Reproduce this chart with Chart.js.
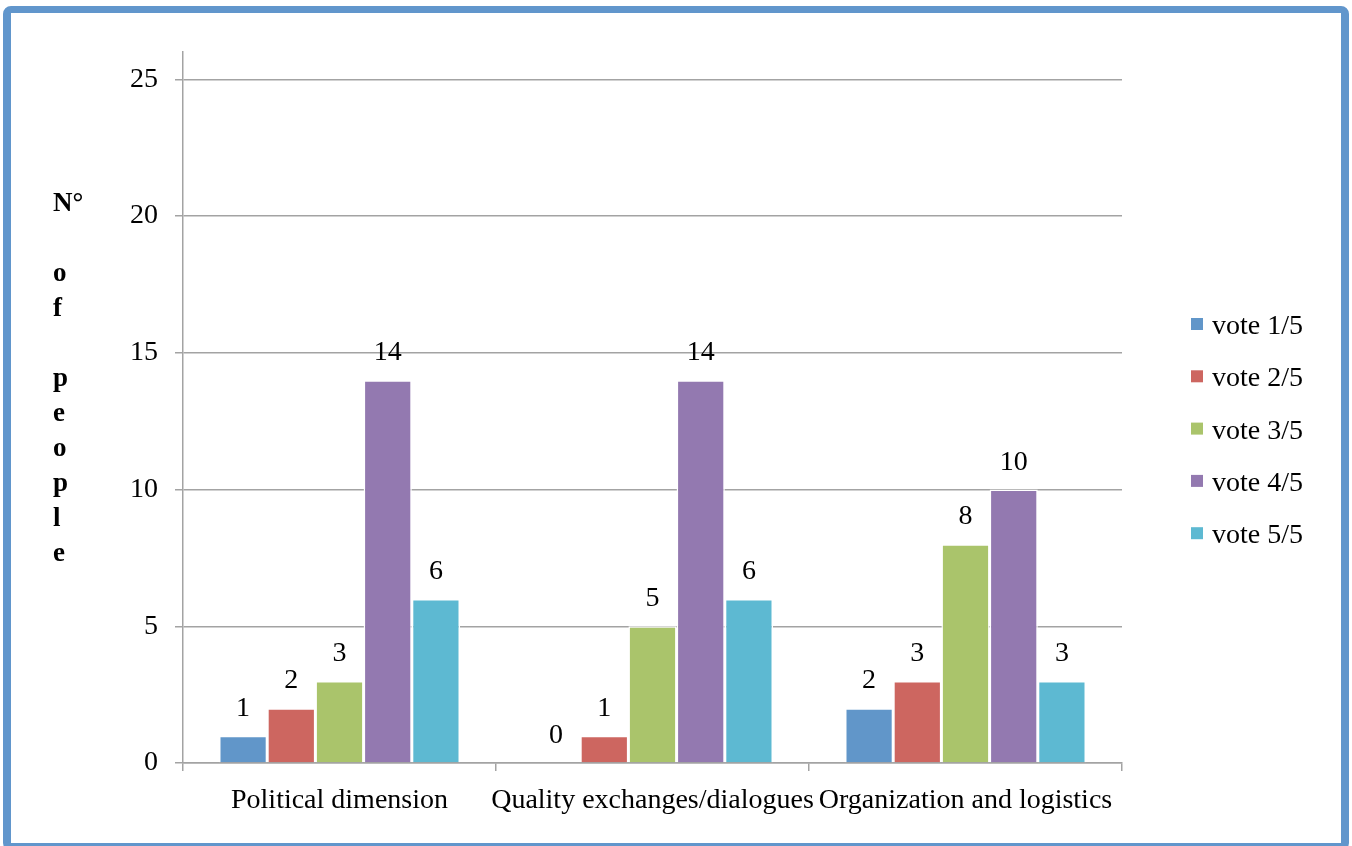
<!DOCTYPE html>
<html>
<head>
<meta charset="utf-8">
<title>Votes</title>
<script src="https://cdn.jsdelivr.net/npm/chart.js@4.4.1/dist/chart.umd.min.js"></script>
<style>
  body { margin: 0; background: #fff; }
  #wrap { position: relative; width: 1352px; height: 846px; overflow: hidden; }
  #frame {
    position: absolute; left: 3px; top: 6px; width: 1330px; height: 830px;
    border: 8px solid #6196cc; border-top-width: 7px; border-radius: 8px;
    pointer-events: none;
  }
  canvas { position: absolute; left: 0; top: 0; }
</style>
</head>
<body>
<div id="wrap">
  <canvas id="voteChart" width="1352" height="846"></canvas>
  <div id="frame"></div>
</div>
<script>
// Values
const categories = ['Political dimension', 'Quality exchanges/dialogues', 'Organization and logistics'];
const seriesNames = ['vote 1/5', 'vote 2/5', 'vote 3/5', 'vote 4/5', 'vote 5/5'];
const vote1 = [1, 0, 2];
const vote2 = [2, 1, 3];
const vote3 = [3, 5, 8];
const vote4 = [14, 14, 10];
const vote5 = [6, 6, 3];
const seriesColors = ['#6196c9', '#cd6660', '#aac46b', '#9379b0', '#5db9d2'];
const yTicks = [0, 5, 10, 15, 20, 25];
const yTitleLines = ['N°', '', 'o', 'f', '', 'p', 'e', 'o', 'p', 'l', 'e'];

const serif = "'Liberation Serif', 'Times New Roman', serif";
const gridGrey = '#a3a3a3';

// Numbers on top of each bar
const valueLabels = {
    id: 'valueLabels',
    afterDatasetsDraw(chart) {
        const ctx = chart.ctx;
        ctx.save();
        ctx.font = '28px ' + serif;
        ctx.fillStyle = '#000';
        ctx.textAlign = 'center';
        ctx.textBaseline = 'alphabetic';
        chart.data.datasets.forEach((ds, i) => {
            chart.getDatasetMeta(i).data.forEach((bar, j) => {
                ctx.fillText(String(ds.data[j]), bar.x, bar.y - 20);
            });
        });
        ctx.restore();
    }
};

// Stacked letters of the y axis title
const stackedTitle = {
    id: 'stackedTitle',
    afterDraw(chart) {
        const ctx = chart.ctx;
        const area = chart.chartArea;
        ctx.save();
        ctx.font = 'bold 27px ' + serif;
        ctx.fillStyle = '#000';
        ctx.textAlign = 'left';
        yTitleLines.forEach((t, k) => {
            ctx.fillText(t, area.left - 130, area.top + 159 + k * 35);
        });
        ctx.restore();
    }
};

// Legend on the right, one entry per row
const sideLegend = {
    id: 'sideLegend',
    afterDraw(chart) {
        const ctx = chart.ctx;
        const area = chart.chartArea;
        ctx.save();
        ctx.font = '28px ' + serif;
        ctx.textAlign = 'left';
        ctx.textBaseline = 'alphabetic';
        chart.data.datasets.forEach((ds, i) => {
            const top = area.top + 266 + i * 52.3;
            ctx.fillStyle = ds.backgroundColor;
            ctx.fillRect(area.right + 69, top, 12, 12);
            ctx.fillStyle = '#000';
            ctx.fillText(ds.label, area.right + 90, top + 16);
        });
        ctx.restore();
    }
};

const seriesValues = [vote1, vote2, vote3, vote4, vote5];
const datasets = seriesNames.map((name, i) => ({
    label: name,
    data: seriesValues[i],
    backgroundColor: seriesColors[i],
    borderColor: '#ffffff',
    borderWidth: 1.5,
    borderSkipped: 'bottom',
    categoryPercentage: 0.77,
    barPercentage: 1.0
}));

const ctx = document.getElementById('voteChart').getContext('2d');
new Chart(ctx, {
    type: 'bar',
    data: { labels: categories, datasets: datasets },
    options: {
        responsive: false,
        animation: false,
        layout: { padding: { left: 0, top: 52, right: 230, bottom: 23 } },
        plugins: {
            legend: { display: false },
            tooltip: { enabled: false }
        },
        scales: {
            x: {
                afterFit(scale) { scale.height = 60; },
                grid: {
                    display: true,
                    drawOnChartArea: false,
                    offset: true,
                    tickLength: 8,
                    color: gridGrey,
                    lineWidth: 1.5
                },
                border: { display: true, color: gridGrey, width: 1.5 },
                ticks: {
                    autoSkip: false,
                    maxRotation: 0,
                    minRotation: 0,
                    padding: 13,
                    color: '#000',
                    font: { family: serif, size: 28 }
                }
            },
            y: {
                min: 0,
                max: 26,
                afterFit(scale) { scale.width = 183; },
                afterBuildTicks(scale) { scale.ticks = yTicks.map(v => ({ value: v })); },
                grid: { color: gridGrey, lineWidth: 1.5, tickLength: 8 },
                border: { display: true, color: gridGrey, width: 1.5 },
                ticks: {
                    padding: 17,
                    color: '#000',
                    font: { family: serif, size: 28 }
                }
            }
        }
    },
    plugins: [valueLabels, stackedTitle, sideLegend]
});
</script>
</body>
</html>
